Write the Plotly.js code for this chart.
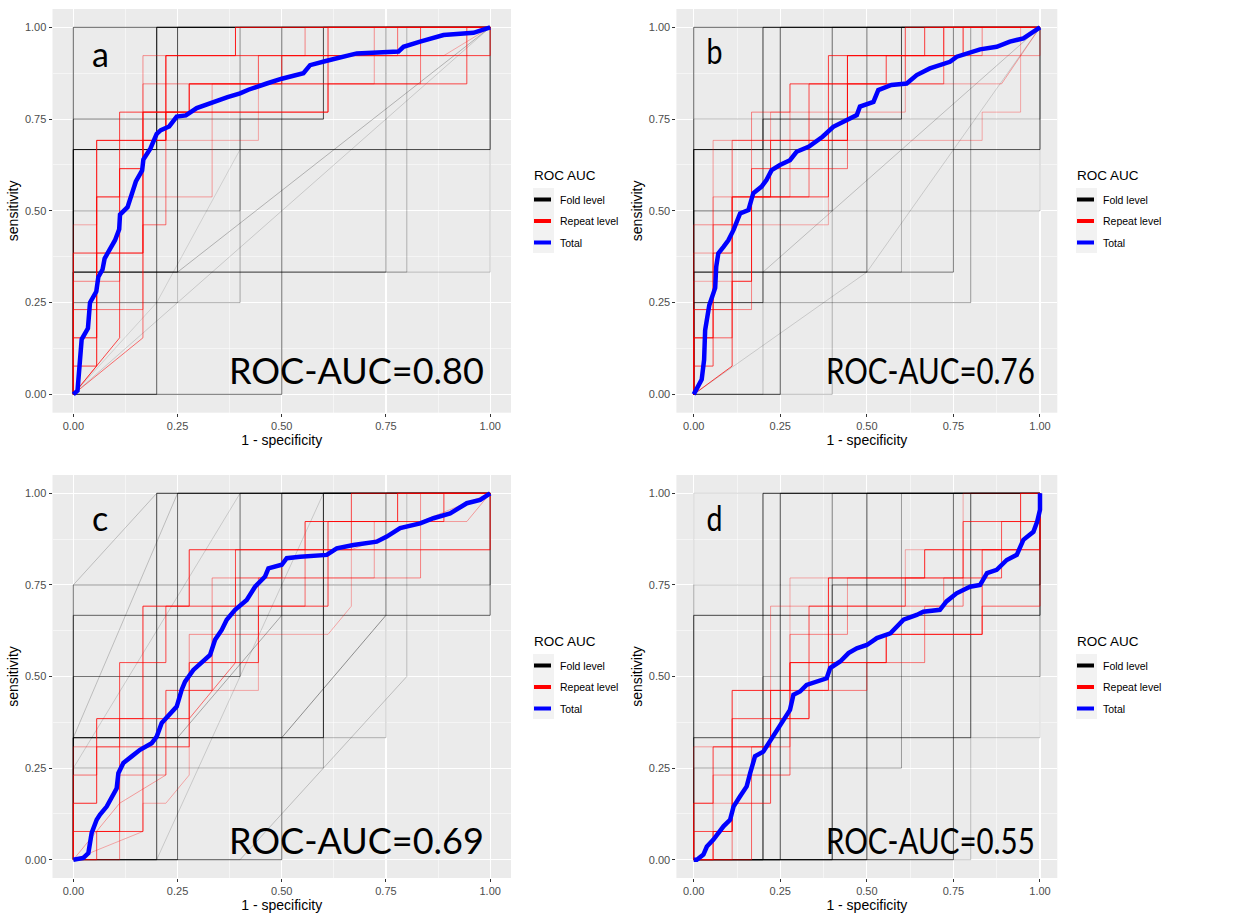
<!DOCTYPE html>
<html>
<head>
<meta charset="utf-8">
<script src="https://cdn.plot.ly/plotly-3.0.1.min.js"></script>
<style>
html,body{margin:0;padding:0;background:#fff;}
#chart{width:1260px;height:914px;}
g.annotation[data-index="2"] text, g.annotation[data-index="6"] text {transform-box: fill-box; transform-origin: 50% 50%; transform: scaleX(0.84);}
g.annotation[data-index="3"] text, g.annotation[data-index="7"] text {transform-box: fill-box; transform-origin: 100% 50%; transform: scaleX(0.82);}
</style>
</head>
<body>
<div id="chart"></div>
<script>
// ---------- DATA ----------
const panelLetters = ['a', 'b', 'c', 'd'];
const aucLabels = ['ROC-AUC=0.80', 'ROC-AUC=0.76', 'ROC-AUC=0.69', 'ROC-AUC=0.55'];
const tickVals = [0, 0.25, 0.5, 0.75, 1];
const tickText = ['0.00', '0.25', '0.50', '0.75', '1.00'];
const legendTitle = 'ROC AUC';
const legendNames = ['Fold level', 'Repeat level', 'Total'];

// Panel a: total ROC curve
const totalA_x = [0,0.01,0.015,0.02,0.035,0.04,0.055,0.06,0.07,0.075,0.085,0.1,0.11,0.112,0.13,0.14,0.15,0.165,0.168,0.185,0.2,0.21,0.23,0.248,0.27,0.296,0.344,0.37,0.4,0.42,0.464,0.5,0.552,0.568,0.608,0.65,0.68,0.78,0.792,0.832,0.888,0.96,1];
const totalA_y = [0,0.01,0.08,0.15,0.18,0.25,0.28,0.32,0.34,0.37,0.39,0.42,0.45,0.49,0.51,0.55,0.58,0.61,0.64,0.67,0.71,0.72,0.73,0.757,0.76,0.78,0.80,0.81,0.82,0.83,0.847,0.86,0.875,0.897,0.909,0.92,0.929,0.934,0.947,0.961,0.979,0.985,1];
// Panel b
const totalB_x = [0,0.023,0.03,0.033,0.045,0.062,0.065,0.071,0.086,0.1,0.115,0.134,0.158,0.172,0.196,0.21,0.225,0.249,0.278,0.297,0.333,0.372,0.403,0.442,0.471,0.48,0.519,0.533,0.571,0.615,0.644,0.682,0.74,0.76,0.788,0.827,0.875,0.913,0.952,1];
const totalB_y = [0,0.04,0.094,0.175,0.243,0.29,0.348,0.384,0.402,0.42,0.448,0.493,0.502,0.548,0.566,0.584,0.611,0.625,0.638,0.661,0.675,0.702,0.729,0.747,0.761,0.784,0.797,0.829,0.843,0.847,0.87,0.888,0.906,0.92,0.929,0.94,0.947,0.961,0.97,1];
// Panel c
const totalC_x = [0,0.024,0.036,0.044,0.056,0.064,0.08,0.092,0.104,0.108,0.12,0.14,0.16,0.188,0.2,0.212,0.232,0.248,0.26,0.268,0.288,0.312,0.328,0.34,0.356,0.368,0.388,0.416,0.436,0.46,0.468,0.5,0.512,0.544,0.608,0.632,0.672,0.728,0.752,0.784,0.832,0.864,0.904,0.944,0.976,1];
const totalC_y = [0,0.005,0.018,0.073,0.109,0.123,0.145,0.173,0.195,0.236,0.264,0.282,0.3,0.318,0.336,0.373,0.4,0.418,0.464,0.486,0.518,0.545,0.559,0.6,0.627,0.655,0.682,0.709,0.745,0.773,0.795,0.805,0.823,0.827,0.832,0.85,0.859,0.868,0.882,0.905,0.918,0.932,0.945,0.973,0.982,1];
// Panel d
const totalD_x = [0,0.009,0.028,0.038,0.057,0.071,0.086,0.105,0.115,0.134,0.153,0.163,0.177,0.201,0.216,0.24,0.264,0.278,0.288,0.307,0.326,0.355,0.384,0.394,0.423,0.447,0.471,0.5,0.529,0.568,0.586,0.606,0.644,0.663,0.711,0.73,0.759,0.798,0.827,0.847,0.875,0.904,0.933,0.952,0.981,0.992,1,1];
const totalD_y = [0,0,0.014,0.036,0.055,0.073,0.091,0.109,0.145,0.173,0.2,0.236,0.282,0.295,0.318,0.355,0.391,0.409,0.45,0.459,0.477,0.486,0.495,0.523,0.541,0.564,0.577,0.586,0.605,0.618,0.636,0.655,0.668,0.677,0.682,0.705,0.727,0.745,0.75,0.782,0.791,0.818,0.832,0.873,0.895,0.923,0.955,1];

// Fold-level curves: [x values, y values]
const foldA = [
  [[0,0,0.2,0.2,1],[0,0.667,0.667,1,1]],
  [[0,0,0.25,0.25,1],[0,0.333,0.333,1,1]],
  [[0,0.2,0.2,1],[0,0,1,1]],
  [[0,0.5,0.5,1],[0,0,1,1]],
  [[0,0,0.6,0.6,1],[0,0.75,0.75,1,1]],
  [[0,0,0.75,0.75,1],[0,0.333,0.333,1,1]],
  [[0,0,1,1],[0,0.667,0.667,1]],
  [[0,0,0.4,0.4,1],[0,0.25,0.25,1,1]],
  [[0,0,0.4,0.4,0.6,0.6,1],[0,0.5,0.5,0.75,0.75,1,1]],
  [[0,0,0.8,0.8,1],[0,0.333,0.333,1,1]],
  [[0,1],[0,1]],
  [[0,0,1,1],[0,0.333,0.333,1]],
  [[0,0.2,0.4,0.4,1],[0,0.25,0.667,1,1]],
  [[0,0,0.25,0.25,1],[0,0.25,0.25,0.333,1]],
  [[0,0,1],[0,1,1]]
];
const foldA_alpha = [0.75,0.7,0.6,0.55,0.5,0.45,0.7,0.3,0.35,0.25,0.15,0.2,0.12,0.25,0.6];

const foldB = [
  [[0,0,0.2,0.2,1],[0,0.667,0.667,1,1]],
  [[0,0.25,0.25,1],[0,0,1,1]],
  [[0,0,0.2,0.2,0.6,0.6,1],[0,0.25,0.25,0.75,0.75,1,1]],
  [[0,0,0.4,0.4,1],[0,0.5,0.5,1,1]],
  [[0,0,0.5,0.5,1],[0,0.333,0.333,1,1]],
  [[0,0,0.75,0.75,1],[0,0.333,0.333,1,1]],
  [[0,0,1,1],[0,0.667,0.667,1]],
  [[0,0,0.8,0.8,1],[0,0.25,0.25,1,1]],
  [[0,0,0.6,0.6,1],[0,0.333,0.333,1,1]],
  [[0,0.4,0.4,1,1],[0,0,0.5,0.5,1]],
  [[0,0,1,1],[0,0.75,0.75,1]],
  [[0,0.5,1],[0,0.333,1]],
  [[0,0.2,0.2,1],[0,0,0.333,1]],
  [[0,0,1],[0,1,1]]
];
const foldB_alpha = [0.75,0.65,0.6,0.55,0.55,0.5,0.65,0.35,0.25,0.25,0.25,0.15,0.2,0.6];

const foldC = [
  [[0,0,0.6,0.6,1],[0,0.333,0.333,1,1]],
  [[0,0.2,0.2,1],[0,0,1,1]],
  [[0,0.25,0.25,1],[0,0,1,1]],
  [[0,0,0.4,0.4,1],[0,0.5,0.5,1,1]],
  [[0,0.5,0.5,1],[0,0,1,1]],
  [[0,0,1,1],[0,0.667,0.667,1]],
  [[0,0,0.5,0.75,0.75,1],[0,0.333,0.333,0.667,1,1]],
  [[0,0,1,1],[0,0.75,0.75,1]],
  [[0,0,0.6,0.6,1],[0,0.25,0.25,1,1]],
  [[0,0,0.2,1],[0,0.75,1,1]],
  [[0,0,0.25,1],[0,0.333,1,1]],
  [[0,0,0.4,1],[0,0.25,1,1]],
  [[0,0.2,0.6,1],[0,0,1,1]],
  [[0,0.4,0.8,0.8,1],[0,0,0.5,1,1]],
  [[0,0,0.25,0.5,0.5,1],[0,0.333,0.333,0.667,1,1]],
  [[0,0,0.75,0.75,1],[0,0.333,0.333,1,1]]
];
const foldC_alpha = [0.75,0.7,0.6,0.55,0.55,0.6,0.4,0.4,0.3,0.2,0.2,0.15,0.15,0.2,0.3,0.25];

const foldD = [
  [[0,0.2,0.2,1],[0,0,1,1]],
  [[0,0.25,0.25,1],[0,0,1,1]],
  [[0,0,1,1],[0,0.667,0.667,1]],
  [[0,0.5,0.5,1],[0,0,1,1]],
  [[0,0.75,0.75,1],[0,0,1,1]],
  [[0,0,0.8,0.8,1],[0,0.333,0.333,1,1]],
  [[0,0.4,0.4,1,1],[0,0,0.75,0.75,1]],
  [[0,0,0.6,0.6,1],[0,0.25,0.25,1,1]],
  [[0,0.2,0.2,1,1],[0,0,0.5,0.5,1]],
  [[0,0,1,1],[0,0.75,0.75,1]],
  [[0,0,1,1],[0,0.333,0.333,1]],
  [[0,0.8,0.8,1],[0,0,1,1]],
  [[0,0,1],[0,1,1]],
  [[0,0.4,0.4,1],[0,0,1,1]]
];
const foldD_alpha = [0.75,0.7,0.7,0.7,0.6,0.55,0.5,0.35,0.35,0.2,0.2,0.2,0.15,0.45];

// Repeat-level curves: [x values, y values]
const repA = [
  [[0,0,0.056,0.056,0.222,0.222,0.389,0.389,1],[0,0.154,0.154,0.692,0.692,0.923,0.923,1,1]],
  [[0,0,0.056,0.056,0.111,0.111,0.278,0.278,0.5,0.5,1,1],[0,0.077,0.077,0.538,0.538,0.769,0.769,0.846,0.846,0.923,0.923,1]],
  [[0,0,0.111,0.111,0.167,0.167,0.444,0.444,0.556,0.556,1],[0,0.308,0.308,0.615,0.615,0.846,0.846,0.923,0.923,1,1]],
  [[0,0,0.167,0.167,0.222,0.222,0.611,0.611,1],[0,0.385,0.385,0.692,0.692,0.769,0.769,1,1]],
  [[0,0,0.056,0.056,0.333,0.333,0.722,0.722,0.833,0.833,1],[0,0.231,0.231,0.538,0.538,0.846,0.846,0.923,0.923,1,1]],
  [[0,0.167,0.167,0.222,0.222,0.778,0.778,1],[0,0.154,0.462,0.462,0.923,0.923,1,1]],
  [[0,0.111,0.111,0.167,0.167,0.278,0.278,0.944,0.944,1],[0,0.154,0.615,0.615,0.769,0.769,0.846,0.846,1,1]],
  [[0,0,0.056,0.056,0.444,0.444,0.889,1],[0,0.462,0.462,0.692,0.692,0.923,0.923,1]],
  [[0,0,0.167,0.167,0.611,0.611,0.833,0.833,1],[0,0.231,0.231,0.769,0.769,0.846,0.846,1,1]],
  [[0,0.056,0.056,0.167,0.167,0.722,0.722,1],[0,0.077,0.385,0.385,0.923,0.923,1,1]]
];
const repA_alpha = [0.9,0.75,0.45,0.8,0.35,0.55,0.7,0.3,0.5,0.4];

const repB = [
  [[0,0,0.056,0.056,0.111,0.111,0.222,0.222,0.444,0.444,0.778,0.778,1],[0,0.154,0.154,0.385,0.385,0.538,0.538,0.692,0.692,0.923,0.923,1,1]],
  [[0,0,0.056,0.056,0.167,0.167,0.333,0.333,0.611,0.611,1],[0,0.077,0.077,0.462,0.462,0.615,0.615,0.846,0.846,1,1]],
  [[0,0,0.167,0.167,0.278,0.278,0.556,0.556,0.833,0.833,1],[0,0.231,0.231,0.769,0.769,0.846,0.846,0.923,0.923,1,1]],
  [[0,0.111,0.111,0.167,0.167,0.389,0.389,0.667,0.667,1],[0,0.077,0.308,0.308,0.538,0.538,0.923,0.923,1,1]],
  [[0,0,0.056,0.056,0.222,0.222,0.611,0.611,0.889,1],[0,0.385,0.385,0.692,0.692,0.769,0.769,0.846,0.846,1]],
  [[0,0,0.111,0.111,0.333,0.333,0.444,0.444,0.722,0.722,1],[0,0.231,0.231,0.538,0.538,0.615,0.615,0.923,0.923,1,1]],
  [[0,0,0.167,0.167,0.389,0.389,0.833,0.833,0.944,0.944,1],[0,0.308,0.308,0.462,0.462,0.692,0.692,0.769,0.769,1,1]],
  [[0,0,0.056,0.056,0.278,0.278,0.556,0.556,1,1],[0,0.462,0.462,0.538,0.538,0.846,0.846,0.923,0.923,1]],
  [[0,0,0.111,0.111,0.444,0.444,0.722,0.722,1],[0,0.154,0.154,0.692,0.692,0.846,0.846,1,1]]
];
const repB_alpha = [0.85,0.7,0.45,0.75,0.35,0.55,0.3,0.4,0.6];

const repC = [
  [[0,0,0.056,0.056,0.167,0.167,0.278,0.278,0.556,0.556,0.778,0.778,1],[0,0.154,0.154,0.385,0.385,0.692,0.692,0.846,0.846,0.923,0.923,1,1]],
  [[0,0.056,0.056,0.111,0.111,0.222,0.222,0.389,0.389,0.667,0.667,1],[0,0,0.077,0.077,0.538,0.538,0.692,0.692,0.846,0.846,1,1]],
  [[0,0.111,0.111,0.222,0.222,0.333,0.333,0.444,0.444,0.833,0.833,1,1],[0,0,0.231,0.231,0.462,0.462,0.615,0.615,0.769,0.769,0.846,0.846,1]],
  [[0,0,0.167,0.167,0.278,0.278,0.444,0.444,0.611,0.611,0.889,0.889,1],[0,0.077,0.077,0.308,0.308,0.538,0.538,0.692,0.692,0.923,0.923,1,1]],
  [[0,0.111,0.222,0.222,0.333,0.333,0.389,0.389,0.722,0.722,0.944,1],[0,0.154,0.231,0.462,0.462,0.692,0.692,0.769,0.769,0.923,0.923,1]],
  [[0,0,0.056,0.056,0.167,0.167,0.278,0.389,0.389,0.556,0.556,1,1],[0,0.231,0.231,0.308,0.308,0.385,0.385,0.538,0.692,0.692,0.846,0.846,1]],
  [[0,0,0.111,0.111,0.278,0.278,0.333,0.333,0.5,0.5,0.833,0.833,1],[0,0.308,0.308,0.385,0.385,0.615,0.615,0.769,0.769,0.846,0.846,1,1]],
  [[0,0.167,0.167,0.222,0.278,0.278,0.444,0.444,0.611,0.667,0.667,1],[0,0.077,0.154,0.154,0.231,0.462,0.462,0.615,0.615,0.692,0.846,1]]
];
const repC_alpha = [0.85,0.7,0.45,0.75,0.35,0.55,0.4,0.3];

const repD = [
  [[0,0.056,0.056,0.111,0.111,0.278,0.278,0.389,0.389,0.667,0.667,0.944,0.944,1],[0,0,0.077,0.077,0.462,0.462,0.538,0.538,0.769,0.769,0.846,0.846,1,1]],
  [[0,0,0.111,0.111,0.222,0.222,0.333,0.333,0.611,0.611,0.778,0.778,1,1],[0,0.077,0.077,0.154,0.154,0.385,0.385,0.692,0.692,0.769,0.769,0.923,0.923,1]],
  [[0,0.056,0.056,0.167,0.167,0.278,0.278,0.444,0.444,0.722,0.722,0.889,0.889,1,1],[0,0,0.231,0.231,0.308,0.308,0.615,0.615,0.692,0.692,0.769,0.769,0.923,0.923,1]],
  [[0,0,0.056,0.056,0.222,0.222,0.389,0.389,0.556,0.556,0.833,0.833,1,1],[0,0.154,0.154,0.308,0.308,0.462,0.462,0.538,0.538,0.615,0.615,0.846,0.846,1]],
  [[0,0.111,0.111,0.333,0.333,0.5,0.5,0.667,0.667,0.778,0.778,1,1],[0,0,0.385,0.385,0.462,0.462,0.538,0.538,0.692,0.692,0.846,0.846,1]],
  [[0,0,0.222,0.222,0.444,0.444,0.889,0.889,1,1],[0,0.308,0.308,0.692,0.692,0.769,0.769,0.923,0.923,1]],
  [[0,0.167,0.167,0.278,0.278,0.556,0.556,0.833,0.833,1,1],[0,0,0.231,0.231,0.538,0.538,0.615,0.615,0.692,0.692,1]],
  [[0,0,0.111,0.111,0.278,0.278,0.611,0.611,0.778,0.778,1],[0,0.154,0.154,0.385,0.385,0.769,0.769,0.846,0.846,1,1]]
];
const repD_alpha = [0.85,0.7,0.45,0.75,0.5,0.35,0.6,0.3];

// ---------- BUILD ----------
const panels = [
  {fold: foldA, foldAlpha: foldA_alpha, rep: repA, repAlpha: repA_alpha, tx: totalA_x, ty: totalA_y},
  {fold: foldB, foldAlpha: foldB_alpha, rep: repB, repAlpha: repB_alpha, tx: totalB_x, ty: totalB_y},
  {fold: foldC, foldAlpha: foldC_alpha, rep: repC, repAlpha: repC_alpha, tx: totalC_x, ty: totalC_y},
  {fold: foldD, foldAlpha: foldD_alpha, rep: repD, repAlpha: repD_alpha, tx: totalD_x, ty: totalD_y}
];

const W = 1260, H = 914;
const xDomL = [52.5 / W, 511 / W];
const xDomR = [676.4 / W, 1057.3 / W];
const yDomT = [1 - 412.7 / H, 1 - 9 / H];
const yDomB = [1 - 878 / H, 1 - 475 / H];
const domains = [[xDomL, yDomT], [xDomR, yDomT], [xDomL, yDomB], [xDomR, yDomB]];
// legend geometry in pixels: [left of legend box, top of items, title center y, key box left]
const legendPx = [[520, 185, 175, 533], [1063, 185, 175, 1076], [520, 651, 641, 533], [1063, 651, 641, 1076]];
const letterPos = [[0.064, 0.93], [0.061, 0.937], [0.064, 0.933], [0.061, 0.933]];
const aucPos = [[0.99, 0.065], [0.99, 0.065], [0.99, 0.055], [0.99, 0.053]];

const FONT = 'Liberation Sans, Arial, sans-serif';
const BIG = 'Lato, Open Sans, sans-serif';
const traces = [];
const layout = {
  width: W, height: H, autosize: false,
  margin: {l: 0, r: 0, t: 0, b: 0},
  paper_bgcolor: '#FFFFFF',
  plot_bgcolor: '#EBEBEB',
  font: {family: FONT, color: '#000000'},
  annotations: [],
  shapes: []
};

panels.forEach((p, i) => {
  const n = i === 0 ? '' : String(i + 1);
  const xa = 'x' + n, ya = 'y' + n;
  const lg = 'legend' + n;
  p.fold.forEach((c, k) => {
    traces.push({x: c[0], y: c[1], xaxis: xa, yaxis: ya, mode: 'lines', showlegend: false, hoverinfo: 'skip',
      line: {color: 'rgba(0,0,0,' + p.foldAlpha[k] + ')', width: 1}});
  });
  p.rep.forEach((c, k) => {
    traces.push({x: c[0], y: c[1], xaxis: xa, yaxis: ya, mode: 'lines', showlegend: false, hoverinfo: 'skip',
      line: {color: 'rgba(255,0,0,' + p.repAlpha[k] + ')', width: 1}});
  });
  traces.push({x: p.tx, y: p.ty, xaxis: xa, yaxis: ya, mode: 'lines', showlegend: false, name: 'Total',
    line: {color: '#0000FF', width: 4.5}});
  const legColors = ['#000000', '#FF0000', '#0000FF'];
  legendNames.forEach((nm, k) => {
    traces.push({x: [null], y: [null], xaxis: xa, yaxis: ya, mode: 'lines', name: nm, legend: lg,
      legendgroup: 'g' + i + '_' + k, showlegend: true,
      line: {color: legColors[k], width: 4, dash: '0px,9px,17px,200px'}});
  });

  const axCommon = {
    range: [-0.05, 1.05], tickmode: 'array', tickvals: tickVals, ticktext: tickText,
    ticks: 'outside', ticklen: 3, tickwidth: 1, tickcolor: '#333333',
    tickfont: {family: FONT, size: 11, color: '#4D4D4D'},
    showgrid: true, gridcolor: '#FFFFFF', gridwidth: 1.1,
    minor: {tickvals: [0.125, 0.375, 0.625, 0.875], showgrid: true, gridcolor: '#FFFFFF', gridwidth: 0.5, ticks: ''},
    zeroline: false, showline: false, fixedrange: true
  };
  layout['xaxis' + n] = Object.assign({}, axCommon, {
    domain: domains[i][0], anchor: ya,
    title: {text: '1 - specificity', font: {family: FONT, size: 14, color: '#000000'}, standoff: 2}
  });
  layout['yaxis' + n] = Object.assign({}, axCommon, {
    domain: domains[i][1], anchor: xa,
    title: {text: 'sensitivity', font: {family: FONT, size: 14, color: '#000000'}, standoff: 2}
  });
  const L = legendPx[i];
  layout[lg] = {
    x: L[0] / W, y: 1 - L[1] / H, xanchor: 'left', yanchor: 'top',
    bgcolor: 'rgba(0,0,0,0)', borderwidth: 0,
    font: {family: FONT, size: 10.5, color: '#000000'},
    tracegroupgap: 2.5, itemwidth: 30
  };
  layout.shapes.push({type: 'rect', xref: 'paper', yref: 'paper', layer: 'below',
    x0: L[3] / W, x1: (L[3] + 21) / W, y0: 1 - (L[1] + 68) / H, y1: 1 - (L[1] + 3) / H,
    fillcolor: '#F2F2F2', line: {width: 0}});
  layout.annotations.push({
    text: panelLetters[i], xref: xa, yref: ya, x: letterPos[i][0], y: letterPos[i][1],
    xanchor: 'center', yanchor: 'middle', showarrow: false,
    font: {family: BIG, size: 34, color: '#000000'}
  });
  layout.annotations.push({
    text: aucLabels[i], xref: xa, yref: ya, x: aucPos[i][0], y: aucPos[i][1],
    xanchor: 'right', yanchor: 'middle', showarrow: false,
    font: {family: BIG, size: 36, color: '#000000'}
  });
});
// legend titles (drawn as text so their spacing matches the reference)
legendPx.forEach((L) => {
  layout.annotations.push({
    text: legendTitle, xref: 'paper', yref: 'paper', x: (L[3] - 1) / W, y: 1 - L[2] / H,
    xanchor: 'left', yanchor: 'middle', showarrow: false,
    font: {family: FONT, size: 13.5, color: '#000000'}
  });
});

Plotly.newPlot('chart', traces, layout, {displayModeBar: false, staticPlot: true});
</script>
</body>
</html>
